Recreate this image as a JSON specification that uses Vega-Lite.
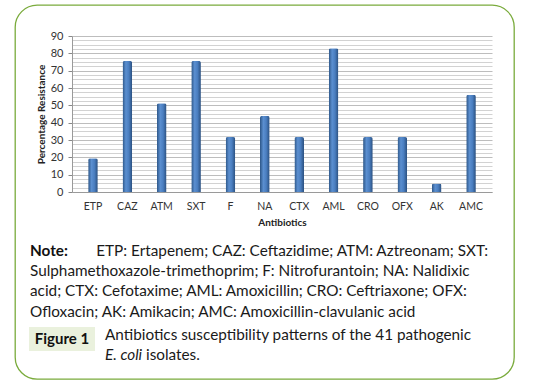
{
  "$schema": "https://vega.github.io/schema/vega-lite/v6.json",
  "width": 499,
  "height": 374,
  "autosize": {"type": "none"},
  "padding": {"left": 15, "top": 5, "right": 20, "bottom": 13},
  "background": "white",
  "config": {
    "font": "Lato",
    "view": {"stroke": "#7aab3c", "strokeWidth": 1.3, "cornerRadius": 22}
  },
  "resolve": {"scale": {"x": "independent", "y": "independent"}},
  "layer": [
    {
      "data": {"values": [
        {"antibiotic": "ETP", "resistance": 19.5},
        {"antibiotic": "CAZ", "resistance": 75.6},
        {"antibiotic": "ATM", "resistance": 51.2},
        {"antibiotic": "SXT", "resistance": 75.6},
        {"antibiotic": "F", "resistance": 31.7},
        {"antibiotic": "NA", "resistance": 43.9},
        {"antibiotic": "CTX", "resistance": 31.7},
        {"antibiotic": "AML", "resistance": 82.9},
        {"antibiotic": "CRO", "resistance": 31.7},
        {"antibiotic": "OFX", "resistance": 31.7},
        {"antibiotic": "AK", "resistance": 4.9},
        {"antibiotic": "AMC", "resistance": 56.1}
      ]},
      "mark": {
        "type": "bar",
        "cornerRadiusTopLeft": 2,
        "cornerRadiusTopRight": 2,
        "color": {
          "gradient": "linear", "x1": 0, "x2": 1, "y1": 0, "y2": 0,
          "stops": [
            {"offset": 0, "color": "#2c5586"},
            {"offset": 0.35, "color": "#5b8fd0"},
            {"offset": 0.65, "color": "#4a7ec0"},
            {"offset": 1, "color": "#2a4f7e"}
          ]
        }
      },
      "encoding": {
        "x": {
          "field": "antibiotic", "type": "nominal", "sort": null,
          "scale": {"range": [57, 477], "paddingInner": 0.72, "paddingOuter": 0.47},
          "axis": {
            "orient": "bottom", "offset": -187, "ticks": false, "labelAngle": 0,
            "labelPadding": 9, "labelFontSize": 10.5, "labelColor": "#333333",
            "domainColor": "#9a9a9a", "grid": false,
            "title": "Antibiotics", "titleFontSize": 10, "titleFontWeight": "bold",
            "titleColor": "#222222", "titlePadding": 6
          }
        },
        "y": {
          "field": "resistance", "type": "quantitative",
          "scale": {"domain": [0, 90], "range": [187, 31], "nice": false, "zero": true},
          "axis": {
            "orient": "left", "offset": -57,
            "values": [0,2.5,5,7.5,10,12.5,15,17.5,20,22.5,25,27.5,30,32.5,35,37.5,40,42.5,45,47.5,50,52.5,55,57.5,60,62.5,65,67.5,70,72.5,75,77.5,80,82.5,85,87.5,90],
            "labelExpr": "datum.value % 10 === 0 ? datum.label : ''",
            "labelOverlap": false,
            "labelPadding": 5, "labelFontSize": 11, "labelColor": "#333333",
            "tickSize": 4, "tickColor": "#888888",
            "tickOpacity": {"condition": {"test": "datum.value % 10 === 0", "value": 1}, "value": 0},
            "domainColor": "#9a9a9a",
            "grid": true,
            "gridColor": {"condition": {"test": "datum.value % 10 === 0", "value": "#bdbdbd"}, "value": "#d2d2d2"},
            "gridWidth": 1,
            "title": "Percentage Resistance", "titleFontSize": 10, "titleFontWeight": "bold",
            "titleColor": "#222222", "titlePadding": 4
          }
        }
      }
    },
    {
      "data": {"values": [{"box": "Figure 1"}]},
      "mark": {"type": "rect", "color": "#eaf1dd"},
      "encoding": {
        "x": {"datum": 0, "type": "quantitative", "scale": {"domain": [0, 1], "range": [14, 80]}, "axis": null},
        "x2": {"datum": 1},
        "y": {"datum": 0, "type": "quantitative", "scale": {"domain": [0, 1], "range": [322, 346]}, "axis": null},
        "y2": {"datum": 1}
      }
    },
    {
      "data": {"values": [{"box": "Figure 1"}]},
      "mark": {"type": "text", "fontWeight": "bold", "fontSize": 15, "color": "#111111", "align": "center", "baseline": "middle"},
      "encoding": {
        "x": {"datum": 0.5, "type": "quantitative", "scale": {"domain": [0, 1], "range": [14, 80]}, "axis": null},
        "y": {"datum": 0.5, "type": "quantitative", "scale": {"domain": [0, 1], "range": [322, 346]}, "axis": null},
        "text": {"field": "box"}
      }
    },
    {
      "data": {"values": [{"line": 1, "label": "Note:"}]},
      "mark": {"type": "text", "fontWeight": "bold", "fontSize": 15.3, "color": "#111111", "align": "left", "baseline": "middle"},
      "encoding": {
        "x": {"datum": 0, "type": "quantitative", "scale": {"domain": [0, 1], "range": [15, 473]}, "axis": null},
        "y": {"field": "line", "type": "quantitative", "scale": {"domain": [1, 4], "range": [245.7, 306.6]}, "axis": null},
        "text": {"field": "label"}
      }
    },
    {
      "data": {"values": [{"line": 1, "text": "ETP: Ertapenem; CAZ: Ceftazidime; ATM: Aztreonam; SXT:"}]},
      "mark": {"type": "text", "fontSize": 15.3, "color": "#1a1a1a", "align": "right", "baseline": "middle"},
      "encoding": {
        "x": {"datum": 1, "type": "quantitative", "scale": {"domain": [0, 1], "range": [15, 473]}, "axis": null},
        "y": {"field": "line", "type": "quantitative", "scale": {"domain": [1, 4], "range": [245.7, 306.6]}, "axis": null},
        "text": {"field": "text"}
      }
    },
    {
      "data": {"values": [
        {"line": 2, "text": "Sulphamethoxazole-trimethoprim; F: Nitrofurantoin; NA: Nalidixic"},
        {"line": 3, "text": "acid; CTX: Cefotaxime; AML: Amoxicillin; CRO: Ceftriaxone; OFX:"},
        {"line": 4, "text": "Ofloxacin; AK: Amikacin; AMC: Amoxicillin-clavulanic acid"}
      ]},
      "mark": {"type": "text", "fontSize": 15.3, "color": "#1a1a1a", "align": "left", "baseline": "middle"},
      "encoding": {
        "x": {"datum": 0, "type": "quantitative", "scale": {"domain": [0, 1], "range": [15, 473]}, "axis": null},
        "y": {"field": "line", "type": "quantitative", "scale": {"domain": [1, 4], "range": [245.7, 306.6]}, "axis": null},
        "text": {"field": "text"}
      }
    },
    {
      "data": {"values": [{"line": 1, "text": "Antibiotics susceptibility patterns of the 41 pathogenic"}]},
      "mark": {"type": "text", "fontSize": 15.3, "color": "#1a1a1a", "align": "left", "baseline": "middle"},
      "encoding": {
        "x": {"datum": 0, "type": "quantitative", "scale": {"domain": [0, 1], "range": [90, 473]}, "axis": null},
        "y": {"field": "line", "type": "quantitative", "scale": {"domain": [1, 2], "range": [330, 350]}, "axis": null},
        "text": {"field": "text"}
      }
    },
    {
      "data": {"values": [{"line": 2, "text": "E. coli"}]},
      "mark": {"type": "text", "fontSize": 15.3, "fontStyle": "italic", "color": "#1a1a1a", "align": "left", "baseline": "middle"},
      "encoding": {
        "x": {"datum": 0, "type": "quantitative", "scale": {"domain": [0, 1], "range": [90, 473]}, "axis": null},
        "y": {"field": "line", "type": "quantitative", "scale": {"domain": [1, 2], "range": [330, 350]}, "axis": null},
        "text": {"field": "text"}
      }
    },
    {
      "data": {"values": [{"line": 2, "text": "isolates."}]},
      "mark": {"type": "text", "fontSize": 15.3, "color": "#1a1a1a", "align": "left", "baseline": "middle"},
      "encoding": {
        "x": {"datum": 0.107, "type": "quantitative", "scale": {"domain": [0, 1], "range": [90, 473]}, "axis": null},
        "y": {"field": "line", "type": "quantitative", "scale": {"domain": [1, 2], "range": [330, 350]}, "axis": null},
        "text": {"field": "text"}
      }
    }
  ]
}
